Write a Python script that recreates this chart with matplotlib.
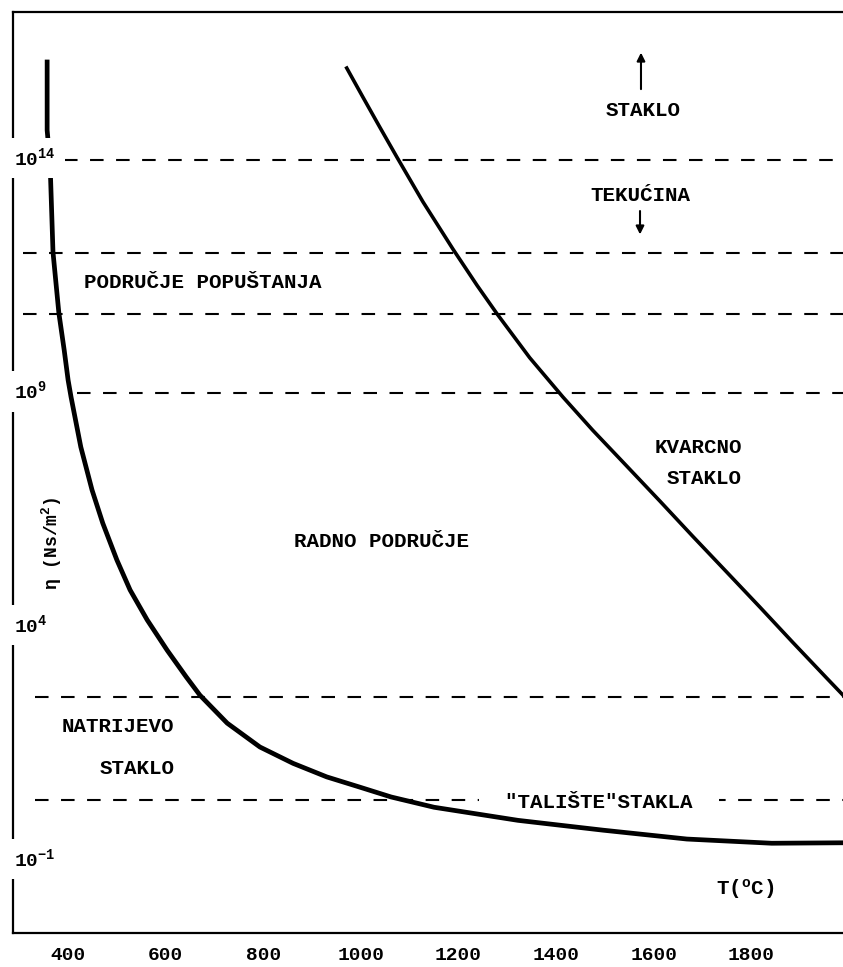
import matplotlib
matplotlib.use("Agg")  # headless backend
import matplotlib.pyplot as plt
import matplotlib.transforms as mtransforms
import numpy as np

# natrijevo (soda) glass: temperature [C] and log10 of viscosity [Ns/m2]
soda_t = [357, 357, 363, 369, 381, 392, 400, 406, 426, 449, 471, 500, 527, 562,
          603, 642, 670, 726, 793, 861, 930, 998, 1062, 1150, 1322, 1496, 1668,
          1842, 1988]
soda_log = [16.09, 14.63, 13.93, 12.02, 10.72, 9.92, 9.28, 8.92, 7.85, 6.93, 6.22,
            5.43, 4.79, 4.15, 3.50, 2.93, 2.54, 1.94, 1.43, 1.08, 0.79, 0.57, 0.36,
            0.14, -0.14, -0.35, -0.54, -0.63, -0.62]

# kvarcno (quartz) glass
quartz_t = [971, 1004, 1039, 1074, 1127, 1189, 1238, 1279, 1346, 1414, 1475, 1545,
            1613, 1680, 1750, 1818, 1885, 1955, 1988]
quartz_log = [15.96, 15.34, 14.69, 14.05, 13.10, 12.08, 11.31, 10.70, 9.76, 8.92,
              8.21, 7.44, 6.69, 5.94, 5.17, 4.42, 3.67, 2.90, 2.54]

# dashed reference levels (log10 viscosity) and where each dash line begins
ref_log = [14, 12, 10.7, 9, 2.5, 0.3]
ref_start = [392, 308, 308, 418, 332, 332]

xticks = [400, 600, 800, 1000, 1200, 1400, 1600, 1800]
ytick_exp = [14, 9, 4, -1]

region_text = ["STAKLO", "TEKUĆINA", "PODRUČJE POPUŠTANJA", "RADNO PODRUČJE",
               "KVARCNO", "STAKLO", "NATRIJEVO", "STAKLO", "T($^{o}$C)"]
region_t = [1578, 1572, 675, 1043, 1691, 1703, 502, 541, 1787]
region_log = [15.06, 13.24, 11.38, 5.82, 7.85, 7.18, 1.86, 0.98, -1.61]

plt.rcParams["font.family"] = ["Liberation Mono", "DejaVu Sans Mono"]
plt.rcParams["font.weight"] = "bold"
plt.rcParams["mathtext.default"] = "regular"

fig = plt.figure(figsize=(8.43, 9.67), dpi=100)
ax = fig.add_axes([0.0154, 0.0352, 0.9846, 0.9524])
ax.set_yscale("log")
ax.set_xlim(287, 1988)
ax.set_ylim(10 ** -2.55, 10 ** 17.16)

for lv, st in zip(ref_log, ref_start):
    ax.hlines(10 ** lv, st, 1988, colors="black", linewidth=1.5,
              linestyles=(0, (6.5, 6)), zorder=1.5)

ax.plot(soda_t, 10 ** np.array(soda_log), color="black", lw=3.4,
        solid_joinstyle="round", zorder=3)
ax.plot(quartz_t, 10 ** np.array(quartz_log), color="black", lw=2.6,
        solid_joinstyle="round", zorder=3)

for txt, t, lv in zip(region_text, region_t, region_log):
    ax.text(t, 10 ** lv, txt, ha="center", va="center", fontsize=15,
            fontweight="bold", zorder=4)

ax.text(1488, 10 ** 0.25, '  "TALIŠTE"STAKLA  ', ha="center", va="center",
        fontsize=15, fontweight="bold", zorder=2.5,
        bbox=dict(boxstyle="square,pad=0.05", facecolor="white", edgecolor="none"))

# arrows between STAKLO and TEKUCINA
ax.annotate("", xy=(1574, 10 ** 16.35), xytext=(1574, 10 ** 15.45),
            arrowprops=dict(arrowstyle="-|>", color="black", lw=1.5, mutation_scale=12))
ax.annotate("", xy=(1572, 10 ** 12.34), xytext=(1572, 10 ** 12.96),
            arrowprops=dict(arrowstyle="-|>", color="black", lw=1.5, mutation_scale=12))

# y tick labels sit on the axis line and break it
blend = mtransforms.blended_transform_factory(ax.transAxes, ax.transData)
for e in ytick_exp:
    ax.annotate("10$^{%d}$" % e, xy=(0, 10.0 ** e), xycoords=blend,
                xytext=(1, -4), textcoords="offset points", ha="left", va="baseline",
                fontsize=14, fontweight="bold", zorder=6, annotation_clip=False,
                bbox=dict(boxstyle="square,pad=0.45", facecolor="white", edgecolor="none"))

ax.text(0.047, 10 ** 5.8, "η (Ns/m$^{2}$)", transform=blend, rotation=90,
        ha="center", va="center", fontsize=13, fontweight="bold")

ax.set_yticks([])
ax.yaxis.set_minor_locator(plt.NullLocator())
ax.set_xticks(xticks)
ax.set_xticklabels([str(v) for v in xticks], fontsize=14, fontweight="bold")
ax.tick_params(axis="x", length=0, pad=10)

ax.spines["right"].set_visible(False)
for s in ("left", "top", "bottom"):
    ax.spines[s].set_linewidth(1.6)

plt.savefig("out.png", dpi=100)
plt.close(fig)
